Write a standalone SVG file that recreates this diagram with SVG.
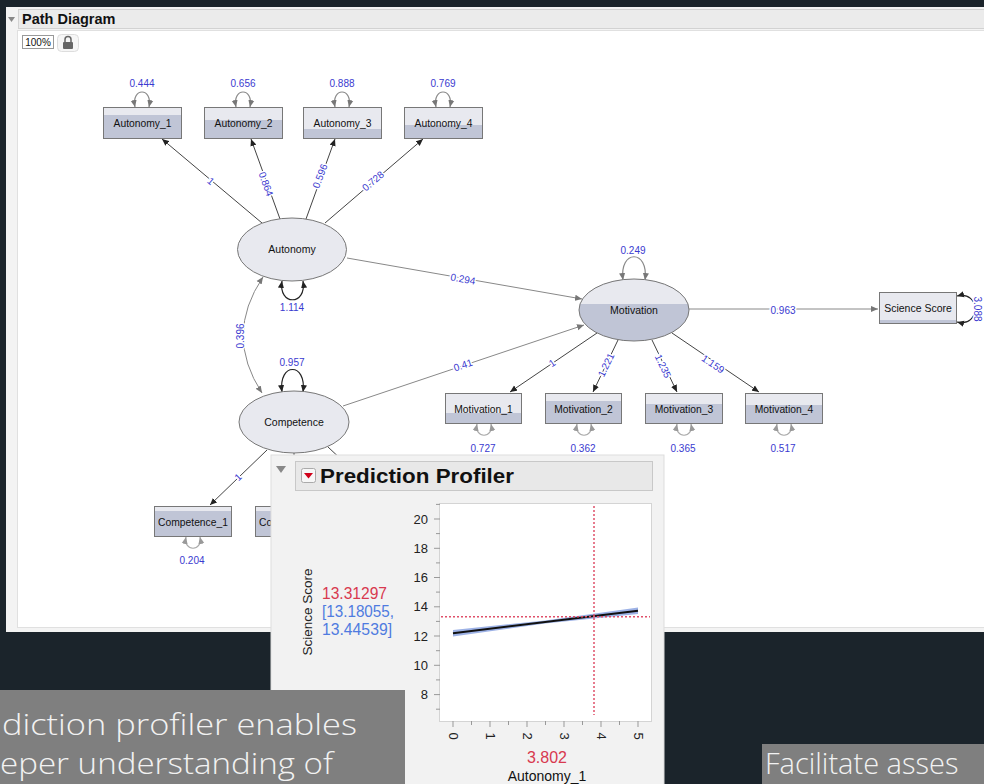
<svg xmlns="http://www.w3.org/2000/svg" width="984" height="784" viewBox="0 0 984 784">
<defs>
<style>
.t{font-family:"Liberation Sans",Arial,sans-serif;fill:#111;text-anchor:middle}
.nt{font-size:10.3px}
.lb{font-family:"Liberation Sans",Arial,sans-serif;font-size:10px;fill:#3a3ad0;text-anchor:middle;paint-order:stroke;stroke:#fff;stroke-width:3px;stroke-linejoin:round}
.bx{stroke:#777;stroke-width:1}
.lt{fill:#e8e9ef}
.dk{fill:#c0c5d6}
.ln{fill:none;stroke:#444;stroke-width:1}
.lg{fill:none;stroke:#888;stroke-width:1}
.lpk{fill:none;stroke:#222;stroke-width:1.2}
.lpg{fill:none;stroke:#888;stroke-width:1.2}
.lpl{fill:none;stroke:#aaa;stroke-width:1.2}
.tick{stroke:#999;stroke-width:1}
.ax{font-family:"Liberation Sans",Arial,sans-serif;font-size:13px;fill:#222}
.big{font-family:"Open Sans","Liberation Sans",sans-serif;font-weight:300;font-size:29px;fill:#f2f2f2}
</style>
<marker id="ak" viewBox="0 0 8 8" refX="8" refY="4" markerWidth="7" markerHeight="7" markerUnits="userSpaceOnUse" orient="auto-start-reverse"><path d="M0,0.5 L8,4 L0,7.5 z" fill="#222"/></marker>
<marker id="ag" viewBox="0 0 8 8" refX="8" refY="4" markerWidth="7" markerHeight="7" markerUnits="userSpaceOnUse" orient="auto-start-reverse"><path d="M0,0.5 L8,4 L0,7.5 z" fill="#777"/></marker>
<marker id="al" viewBox="0 0 8 8" refX="8" refY="4" markerWidth="7" markerHeight="7" markerUnits="userSpaceOnUse" orient="auto-start-reverse"><path d="M0,0.5 L8,4 L0,7.5 z" fill="#999"/></marker>
<clipPath id="cm"><ellipse cx="634" cy="310" rx="55" ry="31"/></clipPath>
</defs>

<rect x="0" y="0" width="984" height="784" fill="#1b242b"/>

<g id="panel">
<rect x="6" y="7" width="980" height="625" fill="#f3f3f3"/>
<rect x="17.5" y="30.5" width="970" height="597" fill="#fff" stroke="#e0e0e0"/>
<rect x="18.5" y="9.5" width="970" height="19" fill="#ebebeb" stroke="#d2d2d2"/>
<path d="M8,17 L15,17 L11.5,22 z" fill="#888"/>
<text x="22" y="24" font-family="Liberation Sans,Arial,sans-serif" font-size="14.5" font-weight="bold" fill="#111">Path Diagram</text>
<rect x="22.5" y="35.5" width="31" height="13" fill="#fff" stroke="#999"/>
<text x="38" y="46" class="t" font-size="10">100%</text>
<rect x="57.5" y="34.5" width="21" height="17" rx="4" fill="#f6f6f6" stroke="#ddd"/>
<rect x="63" y="42" width="10" height="7" rx="1" fill="#666"/>
<path d="M65,42 V39.5 a3,3 0 0 1 6,0 V42" fill="none" stroke="#666" stroke-width="1.5"/>
</g>

<g id="connectors">
<path class="ln" d="M262,223 L162,139" marker-end="url(#ak)"/>
<path class="ln" d="M280,219 L251,139" marker-end="url(#ak)"/>
<path class="ln" d="M306,219 L335,139" marker-end="url(#ak)"/>
<path class="ln" d="M325,223 L423,139" marker-end="url(#ak)"/>
<path class="lg" d="M347,258 L582,299" marker-end="url(#ag)"/>
<path class="lg" d="M343,406 L584,325" marker-end="url(#ag)"/>
<path class="lg" d="M689,309 L878,309" marker-end="url(#ag)"/>
<path class="ln" d="M597,333 L510,392" marker-end="url(#ak)"/>
<path class="ln" d="M618,340 L593,392" marker-end="url(#ak)"/>
<path class="ln" d="M652,340 L677,392" marker-end="url(#ak)"/>
<path class="ln" d="M672,333 L759,392" marker-end="url(#ak)"/>
<path class="ln" d="M267,450 L210,505" marker-end="url(#ak)"/>
<path class="ln" d="M294,453 L294,505"/>
<path class="ln" d="M328,447 L390,505"/>
<path class="lg" d="M263,277 Q224,335 262,393" marker-start="url(#ag)" marker-end="url(#ag)"/>
<path class="lpg" d="M135,107 C131,87 153,87 149,107" marker-start="url(#ag)" marker-end="url(#ag)"/>
<path class="lpg" d="M236,107 C232,87 254,87 250,107" marker-start="url(#ag)" marker-end="url(#ag)"/>
<path class="lpg" d="M335,107 C331,87 353,87 349,107" marker-start="url(#ag)" marker-end="url(#ag)"/>
<path class="lpg" d="M436,107 C432,87 454,87 450,107" marker-start="url(#ag)" marker-end="url(#ag)"/>
<path class="lpk" d="M282,281 C278,306 307,306 303,281" marker-start="url(#ak)" marker-end="url(#ak)"/>
<path class="lpk" d="M282,392 C278,362 307,362 303,392" marker-start="url(#ak)" marker-end="url(#ak)"/>
<path class="lpg" d="M623,280 C619,249 649,249 645,280" marker-start="url(#ag)" marker-end="url(#ag)"/>
<path class="lpk" d="M957,296 C981,290 981,328 957,322" marker-start="url(#ak)" marker-end="url(#ak)"/>
<path class="lpl" d="M477,424 C474,439 494,439 491,424" marker-start="url(#al)" marker-end="url(#al)"/>
<path class="lpl" d="M577,424 C574,439 594,439 591,424" marker-start="url(#al)" marker-end="url(#al)"/>
<path class="lpl" d="M677,424 C674,439 694,439 691,424" marker-start="url(#al)" marker-end="url(#al)"/>
<path class="lpl" d="M777,424 C774,439 794,439 791,424" marker-start="url(#al)" marker-end="url(#al)"/>
<path class="lpl" d="M186,537 C183,552 203,552 200,537" marker-start="url(#al)" marker-end="url(#al)"/>
<text class="lb" x="142" y="87">0.444</text>
<text class="lb" x="243" y="87">0.656</text>
<text class="lb" x="342" y="87">0.888</text>
<text class="lb" x="443" y="87">0.769</text>
<text class="lb" transform="translate(211,181) rotate(40)" dy="3.5">1</text>
<text class="lb" transform="translate(266,184) rotate(70)" dy="3.5">0.864</text>
<text class="lb" transform="translate(320,176) rotate(-69)" dy="3.5">0.596</text>
<text class="lb" transform="translate(373,181) rotate(-40)" dy="3.5">0.728</text>
<text class="lb" x="292" y="311">1.114</text>
<text class="lb" transform="translate(463,279) rotate(10)" dy="3.5">0.294</text>
<text class="lb" transform="translate(463,365) rotate(-18.5)" dy="3.5">0.41</text>
<text class="lb" transform="translate(240,336) rotate(-90)" dy="3.5">0.396</text>
<text class="lb" x="292" y="366">0.957</text>
<text class="lb" x="633" y="254">0.249</text>
<text class="lb" x="783" y="313.5">0.963</text>
<text class="lb" font-size="9.5" transform="translate(977.5,309) rotate(90)" dy="3.3">3.088</text>
<text class="lb" transform="translate(552,363) rotate(-34)" dy="3.5">1</text>
<text class="lb" transform="translate(606,365) rotate(-64)" dy="3.5">1.221</text>
<text class="lb" transform="translate(663,366) rotate(65)" dy="3.5">1.235</text>
<text class="lb" transform="translate(713,364) rotate(34)" dy="3.5">1.159</text>
<text class="lb" transform="translate(238,477) rotate(-44)" dy="3.5">1</text>
<text class="lb" x="483" y="452">0.727</text>
<text class="lb" x="583" y="452">0.362</text>
<text class="lb" x="683" y="452">0.365</text>
<text class="lb" x="783" y="452">0.517</text>
<text class="lb" x="192" y="564">0.204</text>
</g>

<g id="autonomy_1"><rect class="dk" x="103" y="107" width="79" height="31"/><rect class="lt" x="103" y="107" width="79" height="8"/><rect class="bx" x="103.5" y="107.5" width="78" height="31" fill="none"/><text class="t nt" x="142.5" y="126.5">Autonomy_1</text></g>
<g id="autonomy_2"><rect class="dk" x="204" y="107" width="79" height="31"/><rect class="lt" x="204" y="107" width="79" height="13"/><rect class="bx" x="204.5" y="107.5" width="78" height="31" fill="none"/><text class="t nt" x="243.5" y="126.5">Autonomy_2</text></g>
<g id="autonomy_3"><rect class="dk" x="303" y="107" width="79" height="31"/><rect class="lt" x="303" y="107" width="79" height="22"/><rect class="bx" x="303.5" y="107.5" width="78" height="31" fill="none"/><text class="t nt" x="342.5" y="126.5">Autonomy_3</text></g>
<g id="autonomy_4"><rect class="dk" x="404" y="107" width="79" height="31"/><rect class="lt" x="404" y="107" width="79" height="18"/><rect class="bx" x="404.5" y="107.5" width="78" height="31" fill="none"/><text class="t nt" x="443.5" y="126.5">Autonomy_4</text></g>

<g id="autonomy"><ellipse class="lt bx" cx="292" cy="249.5" rx="54.5" ry="31.5"/><text class="t" font-size="10.5" x="292" y="253">Autonomy</text></g>
<g id="competence"><ellipse class="lt bx" cx="294" cy="422" rx="55" ry="31"/><text class="t" font-size="10.5" x="294" y="425.5">Competence</text></g>
<g id="motivation"><g clip-path="url(#cm)"><rect class="dk" x="579" y="279" width="110" height="62"/><rect class="lt" x="579" y="279" width="110" height="25"/></g><ellipse class="bx" fill="none" cx="634" cy="310" rx="55" ry="31"/><text class="t" font-size="10.5" x="634" y="313.5">Motivation</text></g>

<g id="science_score"><rect class="dk" x="879" y="292" width="78" height="32"/><rect class="lt" x="879" y="292" width="78" height="28"/><rect class="bx" x="879.5" y="292.5" width="77" height="31" fill="none"/><text class="t" font-size="10.5" x="918" y="312">Science Score</text></g>

<g id="motivation_1"><rect class="dk" x="445" y="393" width="77" height="31"/><rect class="lt" x="445" y="393" width="77" height="20"/><rect class="bx" x="445.5" y="393.5" width="76" height="30" fill="none"/><text class="t nt" x="483.5" y="412.5">Motivation_1</text></g>
<g id="motivation_2"><rect class="dk" x="545" y="393" width="77" height="31"/><rect class="lt" x="545" y="393" width="77" height="8"/><rect class="bx" x="545.5" y="393.5" width="76" height="30" fill="none"/><text class="t nt" x="583.5" y="412.5">Motivation_2</text></g>
<g id="motivation_3"><rect class="dk" x="645" y="393" width="78" height="31"/><rect class="lt" x="645" y="393" width="78" height="11"/><rect class="bx" x="645.5" y="393.5" width="77" height="30" fill="none"/><text class="t nt" x="684" y="412.5">Motivation_3</text></g>
<g id="motivation_4"><rect class="dk" x="745" y="393" width="78" height="31"/><rect class="lt" x="745" y="393" width="78" height="12"/><rect class="bx" x="745.5" y="393.5" width="77" height="30" fill="none"/><text class="t nt" x="784" y="412.5">Motivation_4</text></g>

<g id="competence_1"><rect class="dk" x="154" y="506" width="78" height="31"/><rect class="lt" x="154" y="506" width="78" height="5"/><rect class="bx" x="154.5" y="506.5" width="77" height="30" fill="none"/><text class="t nt" x="193" y="525.5">Competence_1</text></g>
<g id="competence_2"><rect class="dk" x="255" y="506" width="78" height="31"/><rect class="lt" x="255" y="506" width="78" height="5"/><rect class="bx" x="255.5" y="506.5" width="77" height="30" fill="none"/><text class="t nt" x="294" y="525.5">Competence_2</text></g>

<g id="profiler">
<rect x="271" y="455" width="393" height="335" fill="#f2f2f2" stroke="#ddd"/>
<path d="M276,466 L286,466 L281,473 z" fill="#888"/>
<rect x="295.5" y="461.5" width="357" height="29" fill="#e8e8e8" stroke="#c8c8c8"/>
<rect x="301.5" y="468.5" width="14" height="14" rx="2" fill="#f7f7f7" stroke="#aaa"/>
<path d="M304,473 L313,473 L308.5,478.5 z" fill="#d0021b"/>
<text x="320" y="483" font-family="Liberation Sans,Arial,sans-serif" font-size="20" font-weight="bold" fill="#111" textLength="194" lengthAdjust="spacingAndGlyphs">Prediction Profiler</text>
<rect x="439.5" y="503.5" width="212" height="218" fill="#fff" stroke="#d4d4d4"/>
<g class="tick">
<path d="M434,519 H440 M434,548.3 H440 M434,577.5 H440 M434,606.8 H440 M434,636 H440 M434,665.3 H440 M434,694.6 H440"/>
<path d="M436,504.4 H440 M436,533.6 H440 M436,562.9 H440 M436,592.1 H440 M436,621.4 H440 M436,650.7 H440 M436,679.9 H440 M436,709.2 H440"/>
<path d="M453,721 V727 M490,721 V727 M527,721 V727 M564,721 V727 M601,721 V727 M638,721 V727"/>
<path d="M471.5,721 V725 M508.5,721 V725 M545.5,721 V725 M582.5,721 V725 M619.5,721 V725"/>
</g>
<g class="ax" text-anchor="end">
<text x="428" y="523.5">20</text><text x="428" y="553">18</text><text x="428" y="582">16</text><text x="428" y="611">14</text><text x="428" y="640.5">12</text><text x="428" y="670">10</text><text x="428" y="699">8</text>
</g>
<g class="ax" text-anchor="middle">
<text transform="translate(453,736) rotate(90)" dy="4.5">0</text>
<text transform="translate(490,736) rotate(90)" dy="4.5">1</text>
<text transform="translate(527,736) rotate(90)" dy="4.5">2</text>
<text transform="translate(564,736) rotate(90)" dy="4.5">3</text>
<text transform="translate(601,736) rotate(90)" dy="4.5">4</text>
<text transform="translate(638,736) rotate(90)" dy="4.5">5</text>
</g>
<path d="M453,630 L545,620.5 L638,607.5 L638,614 L545,623.5 L453,636.5 z" fill="#9db2e6"/>
<path d="M453,633.3 L638,610.7" stroke="#111" stroke-width="2" fill="none"/>
<path d="M441,616.8 H650" stroke="#e0506a" stroke-width="1.5" stroke-dasharray="2,2" fill="none"/>
<path d="M594,506 V715" stroke="#e0506a" stroke-width="1.5" stroke-dasharray="2,2" fill="none"/>
<text transform="translate(312,612) rotate(-90)" font-family="Liberation Sans,Arial,sans-serif" font-size="13.5" fill="#222" text-anchor="middle">Science Score</text>
<text x="322" y="599" font-family="Liberation Sans,Arial,sans-serif" font-size="16.5" fill="#d8394f" textLength="65" lengthAdjust="spacingAndGlyphs">13.31297</text>
<text x="322" y="617" font-family="Liberation Sans,Arial,sans-serif" font-size="16.5" fill="#4f7be0" textLength="72" lengthAdjust="spacingAndGlyphs">[13.18055,</text>
<text x="322" y="635" font-family="Liberation Sans,Arial,sans-serif" font-size="16.5" fill="#4f7be0" textLength="70" lengthAdjust="spacingAndGlyphs">13.44539]</text>
<text x="547" y="763" font-family="Liberation Sans,Arial,sans-serif" font-size="16" fill="#d8394f" text-anchor="middle">3.802</text>
<text x="547" y="781" font-family="Liberation Sans,Arial,sans-serif" font-size="14" fill="#111" text-anchor="middle">Autonomy_1</text>
</g>

<g id="caption_left">
<rect x="0" y="690" width="405" height="94" fill="#7f7f7f"/>
<text class="big" x="2" y="735" textLength="355" lengthAdjust="spacingAndGlyphs">diction profiler enables</text>
<text class="big" x="0" y="774" textLength="333" lengthAdjust="spacingAndGlyphs">eper understanding of</text>
</g>
<g id="caption_right">
<rect x="762" y="744" width="222" height="40" fill="#7f7f7f"/>
<text class="big" x="765" y="774" font-size="25">Facilitate asses</text>
</g>
</svg>
